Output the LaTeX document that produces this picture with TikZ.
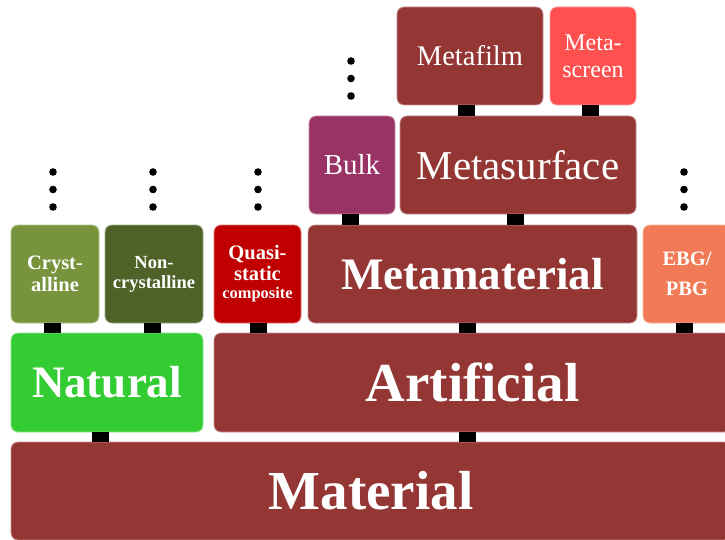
\documentclass[tikz,border=0pt]{standalone}
\usepackage{fontspec}
\setmainfont{Liberation Serif}
\definecolor{matred}{RGB}{148,54,52}
\definecolor{natgreen}{RGB}{51,204,51}
\definecolor{crygreen}{RGB}{119,147,60}
\definecolor{ncrgreen}{RGB}{79,98,40}
\definecolor{quared}{RGB}{192,0,0}
\definecolor{ebgorange}{RGB}{242,122,86}
\definecolor{bulkpurple}{RGB}{153,51,102}
\definecolor{scrred}{RGB}{255,80,80}

\begin{document}
\begin{tikzpicture}[x=1pt, y=-1pt,
	box/.style={rounded corners=7pt, fill=#1, draw=#1!55!white, line width=0.8pt, text=white, inner sep=0pt, align=center},
	link/.style={line width=17pt, black}]
	\useasboundingbox (0,0) rectangle (725,540);
	\clip (0,0) rectangle (725,540);

	% bottom rows
	\node [box=matred, minimum width=720pt, minimum height=98pt, font=\bfseries\fontsize{55}{60}\selectfont] (mat) at (371,491) {Material};
	\node [box=natgreen, minimum width=192pt, minimum height=99pt, font=\bfseries\fontsize{45}{50}\selectfont] (nat) at (107,382.5) {Natural};
	\node [box=matred, minimum width=517pt, minimum height=99pt, font=\bfseries\fontsize{55}{60}\selectfont] (art) at (472.5,382.5) {Artificial};

	% third row
	\node [box=crygreen, minimum width=88pt, minimum height=98pt, font=\bfseries\fontsize{20.5}{22}\selectfont] (cry) at (55,274) {Cryst-\\alline};
	\node [box=ncrgreen, minimum width=98pt, minimum height=98pt, font=\bfseries\fontsize{18.5}{20}\selectfont] (ncr) at (154,274) {Non-\\crystalline};
	\node [box=quared, minimum width=87pt, minimum height=98pt, font=\bfseries\fontsize{20.5}{21}\selectfont] (qua) at (257.5,274) {Quasi-\\static\\[-3pt]{\fontsize{16.4}{18}\selectfont composite}};
	\node [box=matred, minimum width=329pt, minimum height=98pt, font=\bfseries\fontsize{45}{50}\selectfont] (mm) at (472.5,274) {Metamaterial};
	\node [box=ebgorange, minimum width=88pt, minimum height=98pt, font=\bfseries\fontsize{20.5}{30}\selectfont] (ebg) at (687,274) {EBG/\\PBG};

	% upper rows
	\node [box=bulkpurple, minimum width=86pt, minimum height=98pt, font=\fontsize{29}{32}\selectfont] (blk) at (352,165) {Bulk};
	\node [box=matred, minimum width=236pt, minimum height=98pt, font=\fontsize{41}{45}\selectfont] (msf) at (518,165) {Metasurface};
	\node [box=matred, minimum width=146pt, minimum height=98pt, font=\fontsize{28.5}{32}\selectfont] (mfl) at (470,56) {Metafilm};
	\node [box=scrred, minimum width=86pt, minimum height=98pt, font=\fontsize{24}{27}\selectfont] (msc) at (593,56) {Meta-\\screen};

	% connectors
	\foreach \a/\b/\d in {nat/mat/-7, art/mat/-5.5, cry/nat/-2.5, ncr/nat/-1.5, qua/art/0.5, mm/art/-5.5,
			ebg/art/-3, blk/mm/-1.5, msf/mm/-3, mfl/msf/-3.5, msc/msf/-2.5}
		\draw [link] ([xshift=\d pt]\a.south) coordinate (t) -- (t |- \b.north);

	% dots
	\foreach \x in {53,153,258,684}
		\foreach \y in {172,189.5,207}
			\fill (\x,\y) circle (3.8pt);
	\foreach \y in {61,78.5,96}
		\fill (351,\y) circle (3.8pt);
\end{tikzpicture}
\end{document}
